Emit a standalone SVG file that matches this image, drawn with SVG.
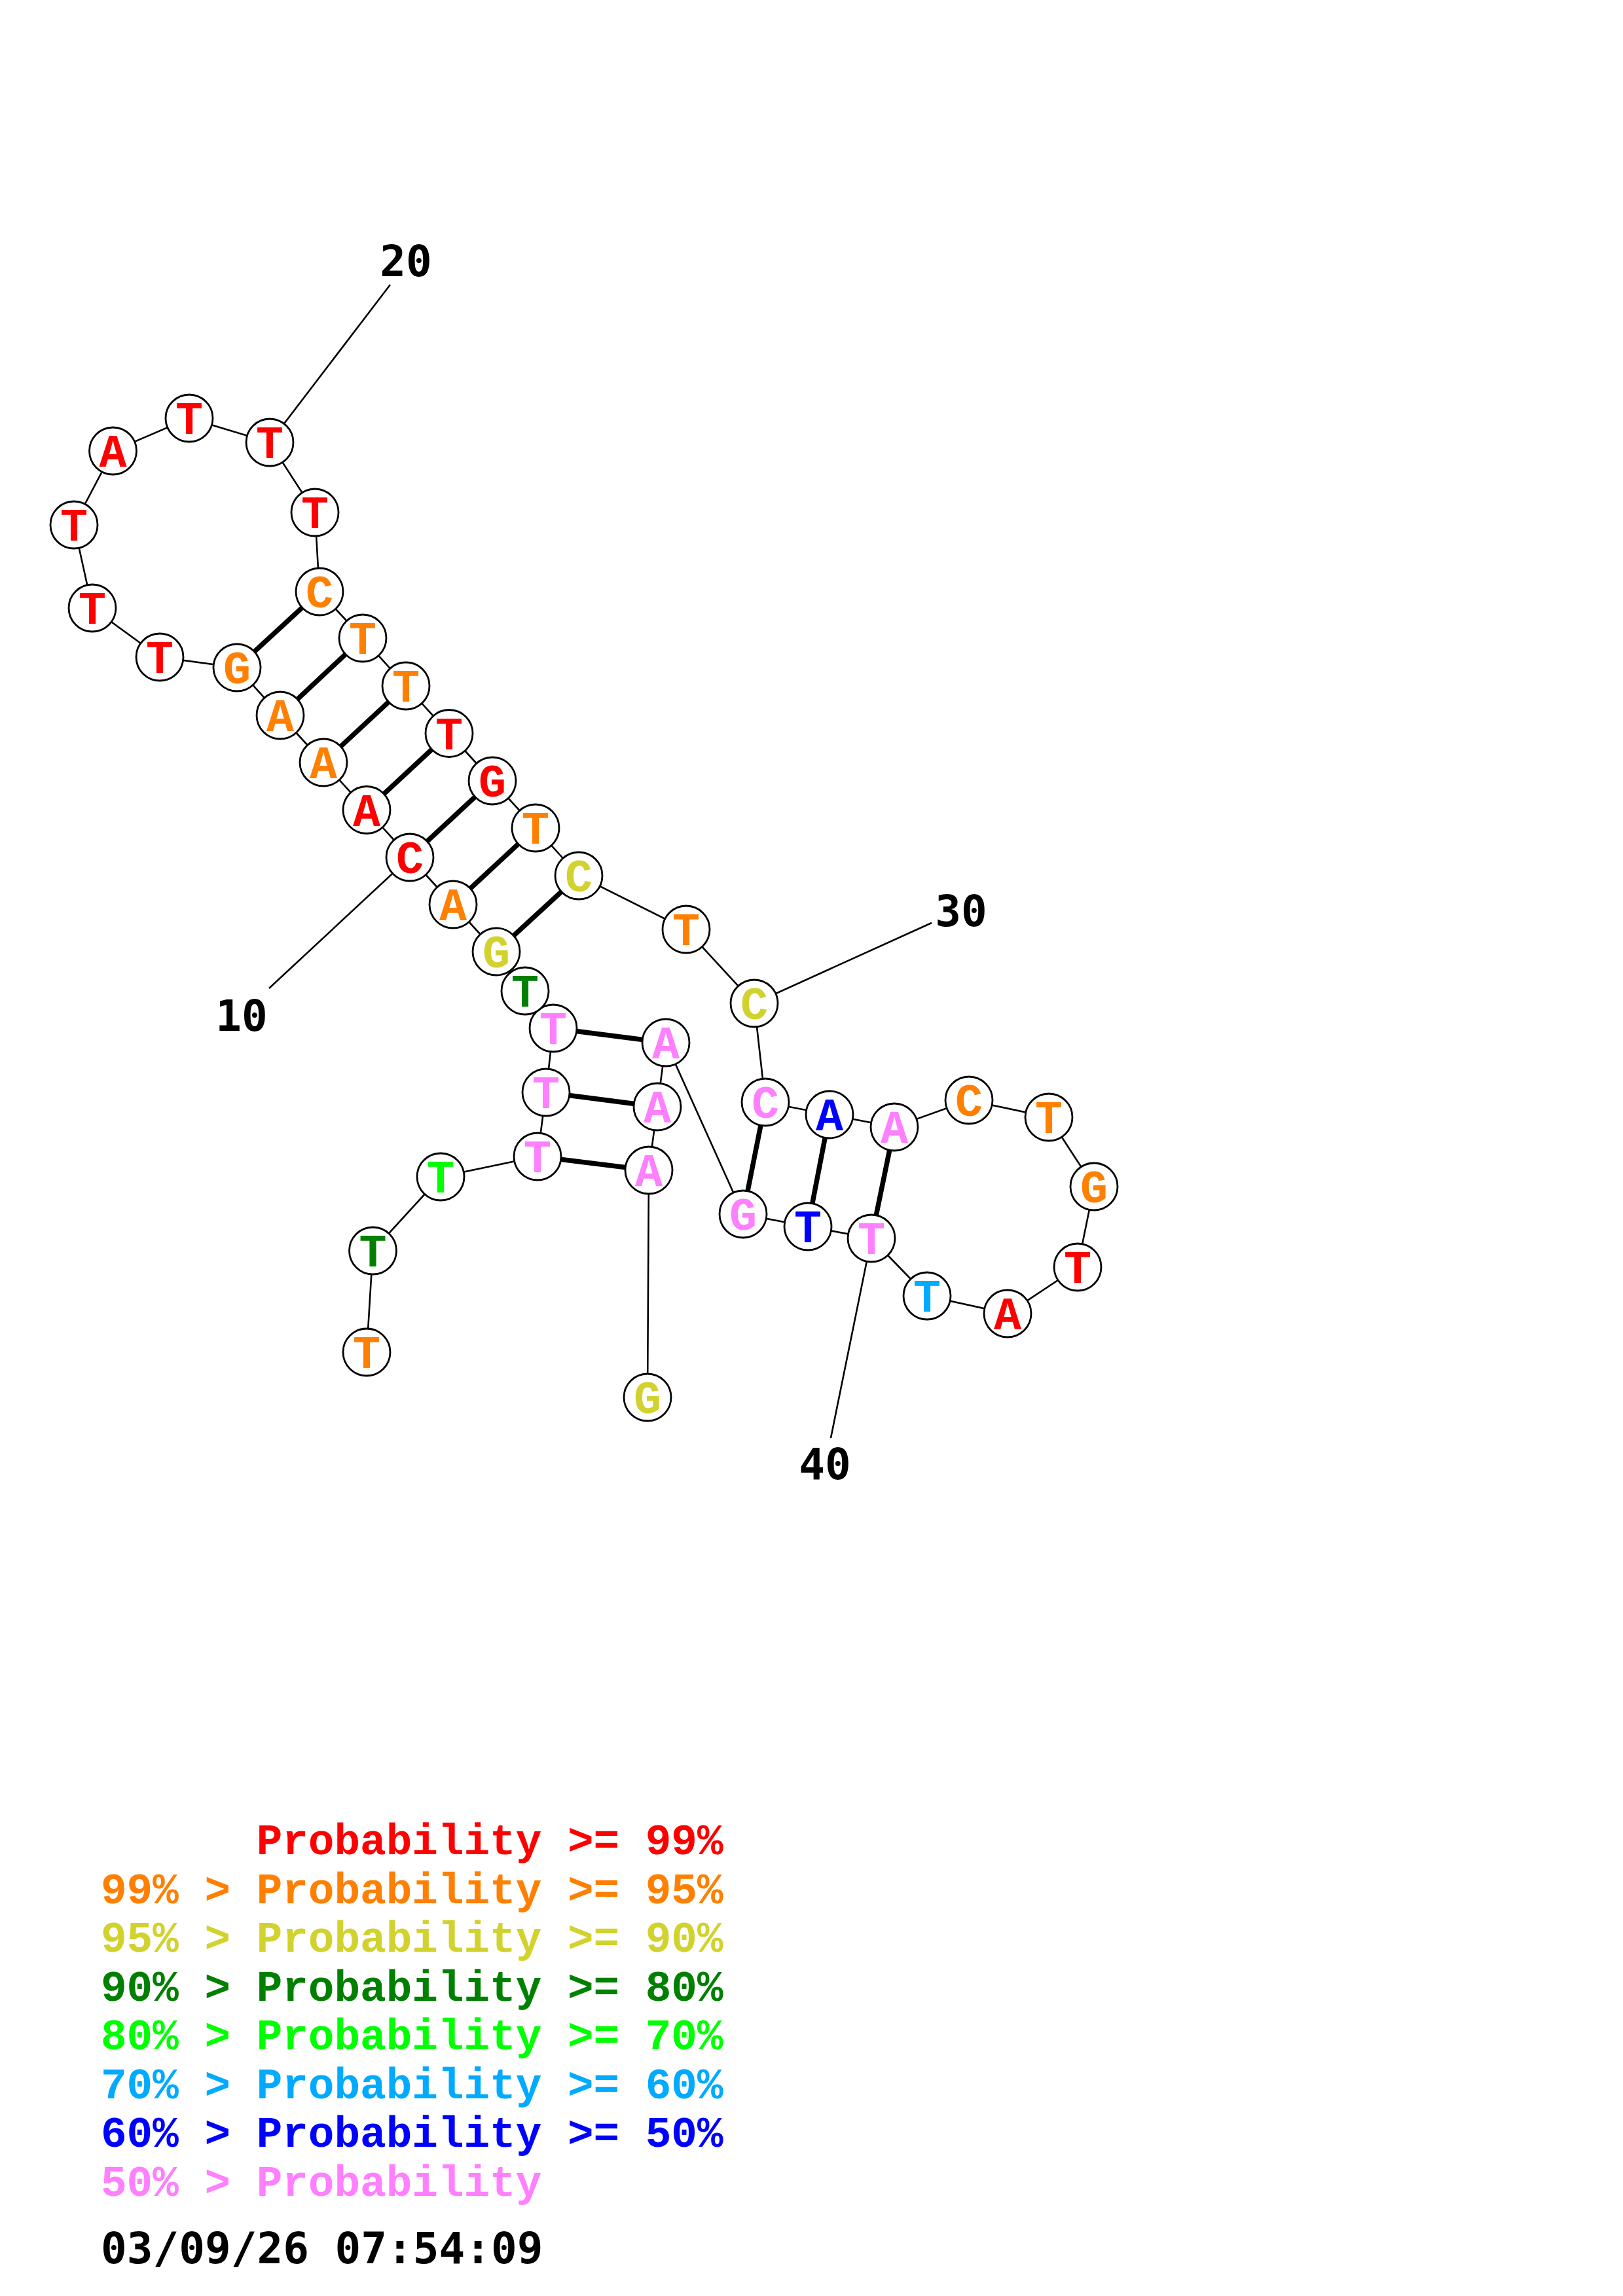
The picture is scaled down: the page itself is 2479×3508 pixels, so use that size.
<svg xmlns="http://www.w3.org/2000/svg" width="2479" height="3508" viewBox="0 0 2479 3508">
<style>
.bb{stroke:#000;stroke-width:2.6;fill:none}
.bp{stroke:#000;stroke-width:7.5;fill:none}
.tk{stroke:#000;stroke-width:2.6;fill:none}
.nd circle{fill:#fff;stroke:#000;stroke-width:2.8}
.nd text{font-family:"Liberation Mono","Courier New",monospace;font-weight:bold;font-size:70px;text-anchor:middle}
.num{font-family:"DejaVu Sans Mono","Liberation Mono",monospace;font-weight:bold;font-size:66px;text-anchor:middle;fill:#000}
.lg{font-family:"Liberation Mono","Courier New",monospace;font-weight:bold;font-size:66px}
.r{fill:#FF0000}.o{fill:#FF8000}.y{fill:#D2D22E}.dg{fill:#008000}.g{fill:#00FF00}.lb{fill:#00AAFF}.b{fill:#0000FF}.p{fill:#FF80FF}
</style>
<rect width="2479" height="3508" fill="#fff"/>
<g id="connectors">
<polyline class="bb" points="560,2066 569.5,1911 673,1798 821,1767 834,1669 845,1571 802,1514 758,1454 692,1382 626,1310 560,1237.5 494,1165 428,1093 362,1020 244,1004 141,929 113,802 172.5,689 289,639 412,676 481,783 488,904 554,975 620,1048 686,1120.5 752,1193 818,1265 884,1338 1048,1420 1152,1533 1169,1684 1267,1703 1366,1722 1480,1681 1602,1707 1671,1813 1646,1936 1539,2007 1416,1980 1331,1892 1234,1874 1135,1855 1017,1593 1004,1691 991,1788 989,2135"/>
<line class="bp" x1="488" y1="904" x2="362" y2="1020"/>
<line class="bp" x1="554" y1="975" x2="428" y2="1093"/>
<line class="bp" x1="620" y1="1048" x2="494" y2="1165"/>
<line class="bp" x1="686" y1="1120.5" x2="560" y2="1237.5"/>
<line class="bp" x1="752" y1="1193" x2="626" y2="1310"/>
<line class="bp" x1="818" y1="1265" x2="692" y2="1382"/>
<line class="bp" x1="884" y1="1338" x2="758" y2="1454"/>
<line class="bp" x1="845" y1="1571" x2="1017" y2="1593"/>
<line class="bp" x1="834" y1="1669" x2="1004" y2="1691"/>
<line class="bp" x1="821" y1="1767" x2="991" y2="1788"/>
<line class="bp" x1="1169" y1="1684" x2="1135" y2="1855"/>
<line class="bp" x1="1267" y1="1703" x2="1234" y2="1874"/>
<line class="bp" x1="1366" y1="1722" x2="1331" y2="1892"/>
<line class="tk" x1="412" y1="676" x2="596" y2="435"/>
<line class="tk" x1="626" y1="1310" x2="411" y2="1510"/>
<line class="tk" x1="1152" y1="1533" x2="1423" y2="1410"/>
<line class="tk" x1="1331" y1="1892" x2="1269" y2="2197"/>
</g>
<g id="n1" class="nd"><circle cx="560" cy="2066" r="36"/><text x="560" y="2090" class="o">T</text></g>
<g id="n2" class="nd"><circle cx="569.5" cy="1911" r="36"/><text x="569.5" y="1935" class="dg">T</text></g>
<g id="n3" class="nd"><circle cx="673" cy="1798" r="36"/><text x="673" y="1822" class="g">T</text></g>
<g id="n4" class="nd"><circle cx="821" cy="1767" r="36"/><text x="821" y="1791" class="p">T</text></g>
<g id="n5" class="nd"><circle cx="834" cy="1669" r="36"/><text x="834" y="1693" class="p">T</text></g>
<g id="n6" class="nd"><circle cx="845" cy="1571" r="36"/><text x="845" y="1595" class="p">T</text></g>
<g id="n7" class="nd"><circle cx="802" cy="1514" r="36"/><text x="802" y="1538" class="dg">T</text></g>
<g id="n8" class="nd"><circle cx="758" cy="1454" r="36"/><text x="758" y="1478" class="y">G</text></g>
<g id="n9" class="nd"><circle cx="692" cy="1382" r="36"/><text x="692" y="1406" class="o">A</text></g>
<g id="n10" class="nd"><circle cx="626" cy="1310" r="36"/><text x="626" y="1334" class="r">C</text></g>
<g id="n11" class="nd"><circle cx="560" cy="1237.5" r="36"/><text x="560" y="1261.5" class="r">A</text></g>
<g id="n12" class="nd"><circle cx="494" cy="1165" r="36"/><text x="494" y="1189" class="o">A</text></g>
<g id="n13" class="nd"><circle cx="428" cy="1093" r="36"/><text x="428" y="1117" class="o">A</text></g>
<g id="n14" class="nd"><circle cx="362" cy="1020" r="36"/><text x="362" y="1044" class="o">G</text></g>
<g id="n15" class="nd"><circle cx="244" cy="1004" r="36"/><text x="244" y="1028" class="r">T</text></g>
<g id="n16" class="nd"><circle cx="141" cy="929" r="36"/><text x="141" y="953" class="r">T</text></g>
<g id="n17" class="nd"><circle cx="113" cy="802" r="36"/><text x="113" y="826" class="r">T</text></g>
<g id="n18" class="nd"><circle cx="172.5" cy="689" r="36"/><text x="172.5" y="713" class="r">A</text></g>
<g id="n19" class="nd"><circle cx="289" cy="639" r="36"/><text x="289" y="663" class="r">T</text></g>
<g id="n20" class="nd"><circle cx="412" cy="676" r="36"/><text x="412" y="700" class="r">T</text></g>
<g id="n21" class="nd"><circle cx="481" cy="783" r="36"/><text x="481" y="807" class="r">T</text></g>
<g id="n22" class="nd"><circle cx="488" cy="904" r="36"/><text x="488" y="928" class="o">C</text></g>
<g id="n23" class="nd"><circle cx="554" cy="975" r="36"/><text x="554" y="999" class="o">T</text></g>
<g id="n24" class="nd"><circle cx="620" cy="1048" r="36"/><text x="620" y="1072" class="o">T</text></g>
<g id="n25" class="nd"><circle cx="686" cy="1120.5" r="36"/><text x="686" y="1144.5" class="r">T</text></g>
<g id="n26" class="nd"><circle cx="752" cy="1193" r="36"/><text x="752" y="1217" class="r">G</text></g>
<g id="n27" class="nd"><circle cx="818" cy="1265" r="36"/><text x="818" y="1289" class="o">T</text></g>
<g id="n28" class="nd"><circle cx="884" cy="1338" r="36"/><text x="884" y="1362" class="y">C</text></g>
<g id="n29" class="nd"><circle cx="1048" cy="1420" r="36"/><text x="1048" y="1444" class="o">T</text></g>
<g id="n30" class="nd"><circle cx="1152" cy="1533" r="36"/><text x="1152" y="1557" class="y">C</text></g>
<g id="n31" class="nd"><circle cx="1169" cy="1684" r="36"/><text x="1169" y="1708" class="p">C</text></g>
<g id="n32" class="nd"><circle cx="1267" cy="1703" r="36"/><text x="1267" y="1727" class="b">A</text></g>
<g id="n33" class="nd"><circle cx="1366" cy="1722" r="36"/><text x="1366" y="1746" class="p">A</text></g>
<g id="n34" class="nd"><circle cx="1480" cy="1681" r="36"/><text x="1480" y="1705" class="o">C</text></g>
<g id="n35" class="nd"><circle cx="1602" cy="1707" r="36"/><text x="1602" y="1731" class="o">T</text></g>
<g id="n36" class="nd"><circle cx="1671" cy="1813" r="36"/><text x="1671" y="1837" class="o">G</text></g>
<g id="n37" class="nd"><circle cx="1646" cy="1936" r="36"/><text x="1646" y="1960" class="r">T</text></g>
<g id="n38" class="nd"><circle cx="1539" cy="2007" r="36"/><text x="1539" y="2031" class="r">A</text></g>
<g id="n39" class="nd"><circle cx="1416" cy="1980" r="36"/><text x="1416" y="2004" class="lb">T</text></g>
<g id="n40" class="nd"><circle cx="1331" cy="1892" r="36"/><text x="1331" y="1916" class="p">T</text></g>
<g id="n41" class="nd"><circle cx="1234" cy="1874" r="36"/><text x="1234" y="1898" class="b">T</text></g>
<g id="n42" class="nd"><circle cx="1135" cy="1855" r="36"/><text x="1135" y="1879" class="p">G</text></g>
<g id="n43" class="nd"><circle cx="1017" cy="1593" r="36"/><text x="1017" y="1617" class="p">A</text></g>
<g id="n44" class="nd"><circle cx="1004" cy="1691" r="36"/><text x="1004" y="1715" class="p">A</text></g>
<g id="n45" class="nd"><circle cx="991" cy="1788" r="36"/><text x="991" y="1812" class="p">A</text></g>
<g id="n46" class="nd"><circle cx="989" cy="2135" r="36"/><text x="989" y="2159" class="y">G</text></g>
<g id="labels">
<text class="num" x="620" y="422">20</text>
<text class="num" x="369" y="1575">10</text>
<text class="num" x="1468" y="1415">30</text>
<text class="num" x="1260" y="2260">40</text>
</g>
<g id="legend" class="lg">
<text x="154" y="2833" class="r" xml:space="preserve">      Probability &gt;= 99%</text>
<text x="154" y="2907.5" class="o">99% &gt; Probability &gt;= 95%</text>
<text x="154" y="2982" class="y">95% &gt; Probability &gt;= 90%</text>
<text x="154" y="3056.5" class="dg">90% &gt; Probability &gt;= 80%</text>
<text x="154" y="3131" class="g">80% &gt; Probability &gt;= 70%</text>
<text x="154" y="3205.5" class="lb">70% &gt; Probability &gt;= 60%</text>
<text x="154" y="3280" class="b">60% &gt; Probability &gt;= 50%</text>
<text x="154" y="3354.5" class="p">50% &gt; Probability</text>
</g>
<text class="num" x="154" y="3458" style="text-anchor:start">03/09/26 07:54:09</text>
</svg>
